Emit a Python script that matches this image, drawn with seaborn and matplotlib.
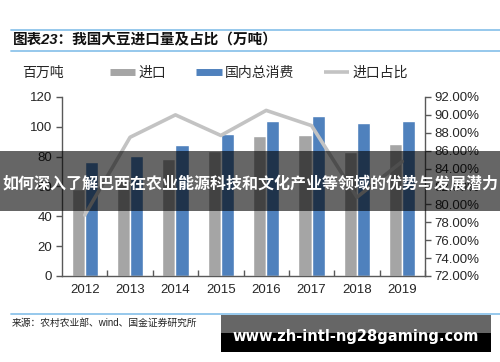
import numpy as np
import pandas as pd
import matplotlib
matplotlib.use("Agg")
import matplotlib.pyplot as plt
from matplotlib.lines import Line2D
from matplotlib.patches import Rectangle
import seaborn as sns

years = ['2012', '2013', '2014', '2015', '2016', '2017', '2018', '2019']
imports = [58.0, 64.0, 78.5, 83.5, 94.0, 94.5, 83.0, 88.5]
consumption = [76.3, 80.6, 87.5, 95.3, 104.2, 107.2, 102.7, 104.2]
ratio = [78.8, 87.5, 90.0, 87.7, 90.5, 88.8, 80.8, 84.8]
series_names = ['进口', '国内总消费', '进口占比']
left_ticks = [0, 20, 40, 60, 80, 100, 120]
right_ticks = [72, 74, 76, 78, 80, 82, 84, 86, 88, 90, 92]

GRAY = '#A5A5A5'
BLUE = '#4F81BD'
LINE = '#C3C3C3'
TXT = '#262626'

sns.set_style('white')
plt.rcParams['font.family'] = ['Liberation Sans', 'Noto Sans CJK SC', 'DejaVu Sans']

df = pd.DataFrame({
    'year': years * 2,
    'value': imports + consumption,
    'series': [series_names[0]] * len(years) + [series_names[1]] * len(years),
})

fig = plt.figure(figsize=(5.0, 3.62), dpi=100)
ax = fig.add_axes([0.124, 0.2376, 0.726, 0.4945])

sns.barplot(data=df, x='year', y='value', hue='series', palette=[GRAY, BLUE],
            width=0.58, ax=ax, legend=False, saturation=1, errorbar=None)
ax.set_xlim(-0.5, len(years) - 0.5)
ax.set_ylim(0, 120)
ax.set_yticks(left_ticks)
ax.set_xlabel('')
ax.set_ylabel('')

ax2 = ax.twinx()
sns.lineplot(x=np.arange(len(years)), y=ratio, color=LINE, linewidth=2.6, ax=ax2)
ax2.set_ylim(72, 92)
ax2.set_yticks(right_ticks)
ax2.set_yticklabels([f'{v:.2f}%' for v in right_ticks])
ax2.set_xlim(-0.5, len(years) - 0.5)

for a in (ax, ax2):
    for s in a.spines.values():
        s.set_visible(False)
ax.spines['left'].set_visible(True)
ax.spines['bottom'].set_visible(True)
ax2.spines['right'].set_visible(True)
for s in (ax.spines['left'], ax.spines['bottom'], ax2.spines['right']):
    s.set_color('#595959')
    s.set_linewidth(1.0)

ax.tick_params(axis='y', direction='out', length=4, width=1, color='#595959',
               labelsize=9.5, labelcolor=TXT, pad=3, left=True)
ax2.tick_params(axis='y', direction='out', length=4, width=1, color='#595959',
                labelsize=9.5, labelcolor=TXT, pad=3, right=True)
ax.tick_params(axis='x', length=0, labelsize=9.5, labelcolor=TXT, pad=6)
ax.set_xticks(np.arange(len(years)) + 0.5, minor=True)
ax.tick_params(axis='x', which='minor', direction='in', length=4, width=1,
               color='#595959', bottom=True)

# legend
handles = [Line2D([0], [0], color=GRAY, lw=5, solid_capstyle='butt'),
           Line2D([0], [0], color=BLUE, lw=5, solid_capstyle='butt'),
           Line2D([0], [0], color=LINE, lw=2.6, solid_capstyle='butt')]
fig.legend(handles, series_names, loc='center', bbox_to_anchor=(0.518, 0.798),
           ncol=3, frameon=False, fontsize=10, handlelength=1.85,
           handletextpad=0.25, columnspacing=2.1, labelcolor=TXT)
fig.text(22 / 500, 1 - 73 / 362, '百万吨', fontsize=10, color=TXT, va='center', ha='left')

# header / footer
fig.text(13 / 500, 1 - 40 / 362, '图表23：我国大豆进口量及占比（万吨）', fontsize=10.5,
         fontweight='bold', color='#111111', va='center', ha='left', style='italic')
for yy in (29.5, 51, 313.5):
    fig.add_artist(Line2D([11 / 500, 1.0], [1 - yy / 362, 1 - yy / 362],
                          color='#8EC4EA', lw=1.3, transform=fig.transFigure))
fig.text(12 / 500, 1 - 323 / 362, '来源：农村农业部、wind、国金证券研究所', fontsize=7,
         color='#222222', va='center', ha='left')

# overlay banners
fig.add_artist(Rectangle((0, 1 - 211 / 362), 1, 60 / 362, transform=fig.transFigure,
                         facecolor='black', alpha=0.6, edgecolor='none', zorder=10))
fig.text(0.5, 1 - 183 / 362, '如何深入了解巴西在农业能源科技和文化产业等领域的优势与发展潜力',
         fontsize=11.5, fontweight='bold', color='white', ha='center', va='center',
         family=['Noto Sans CJK SC', 'DejaVu Sans'], zorder=11)
fig.add_artist(Rectangle((221 / 500, 1 - 333 / 362), 270 / 500, 18 / 362,
                         transform=fig.transFigure, facecolor='#666666',
                         edgecolor='none', zorder=10))
fig.add_artist(Rectangle((221 / 500, 1 - 352 / 362), 270 / 500, 19 / 362,
                         transform=fig.transFigure, facecolor='black',
                         edgecolor='none', zorder=10))
fig.text(356 / 500, 1 - 337 / 362, 'www.zh-intl-ng28gaming.com', fontsize=10.5,
         fontweight='bold', color='white', ha='center', va='center',
         family=['DejaVu Sans'], zorder=11)

fig.savefig('out.png', dpi=100)
